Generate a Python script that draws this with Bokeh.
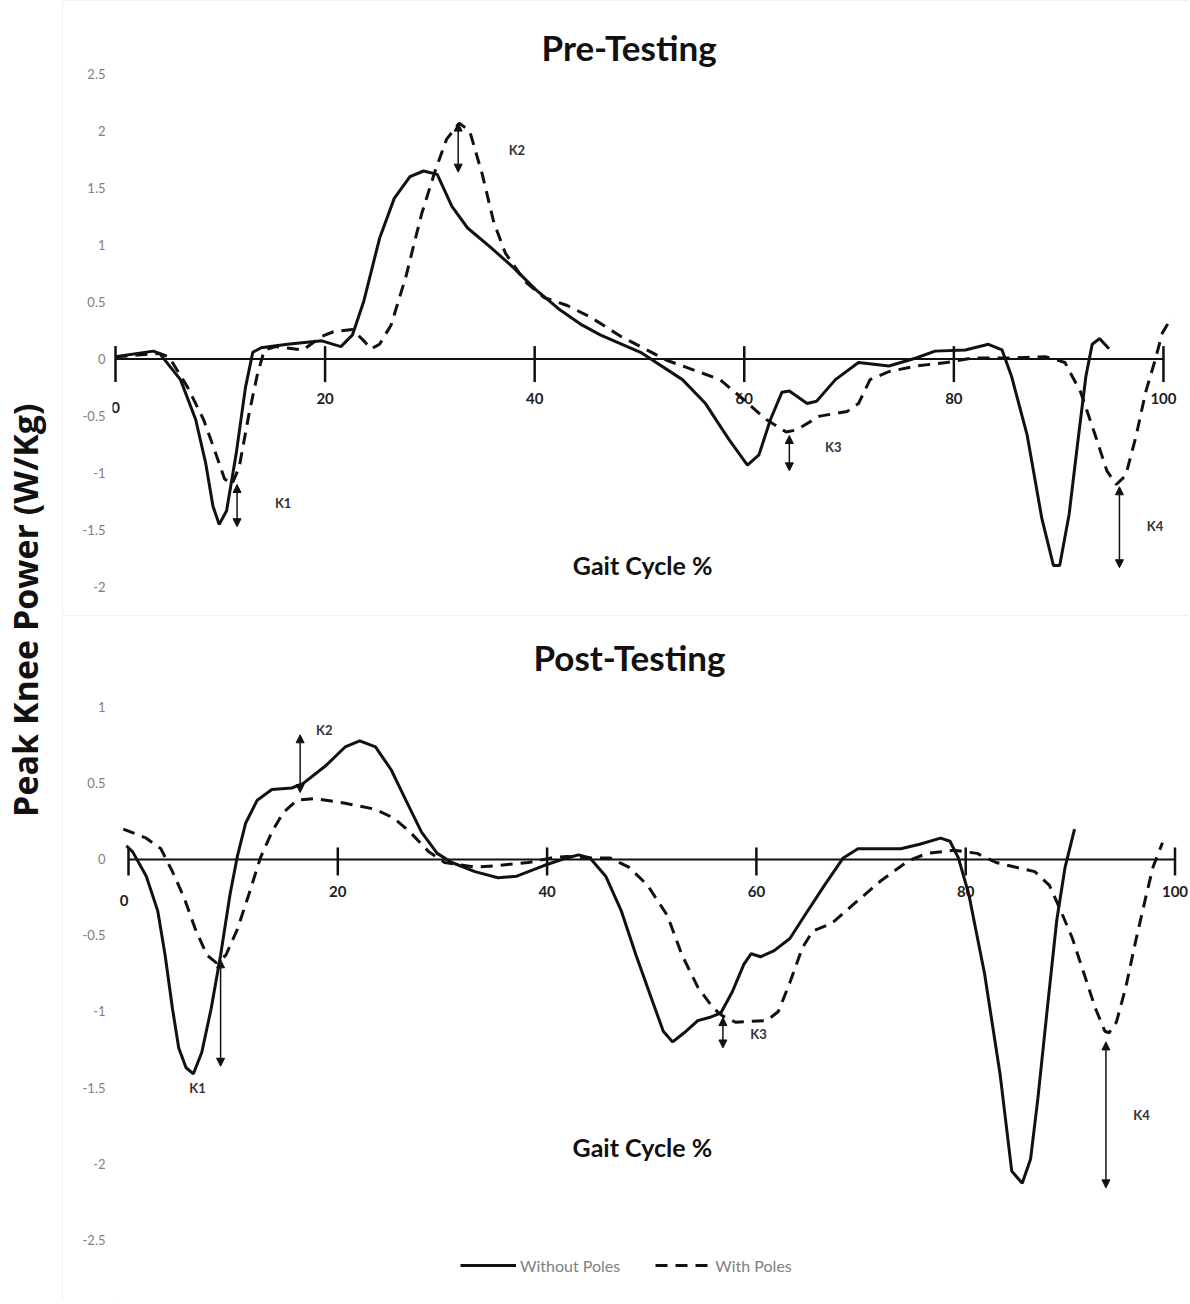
import math
from bokeh.plotting import figure
from bokeh.layouts import row, column
from bokeh.models import (Range1d, FixedTicker, Label, Arrow, NormalHead, Legend,
                          LegendItem, ColumnDataSource)
from bokeh.embed import file_html
from bokeh.resources import INLINE
from bokeh.core.properties import value

# ---------------------------------------------------------------- data
x_ticks = [0, 20, 40, 60, 80, 100]
pre_y_ticks = [2.5, 2, 1.5, 1, 0.5, 0, -0.5, -1, -1.5, -2]
post_y_ticks = [1, 0.5, 0, -0.5, -1, -1.5, -2, -2.5]

# Pre-Testing, without poles (solid)
pre_without_x = [0, 3.6, 4.2, 6.2, 7.65, 8.6, 9.3, 9.9, 10.6, 11.5, 12.4, 13.1, 13.9, 16.4,
                 19.7, 21.5, 22.6, 23.7, 25.2, 26.6, 28.1, 29.4, 30.7, 32.1, 33.6, 35.8, 38.0,
                 40.1, 42.3, 44.5, 46.3, 50.1, 54.1, 56.3, 58.5, 60.3, 61.4, 62.5, 63.6, 64.3,
                 66.0, 66.9, 68.7, 70.9, 73.8, 76.4, 78.2, 81.1, 83.3, 84.6, 85.5, 87.0, 88.4,
                 89.5, 90.1, 91.0, 91.9, 92.6, 93.2, 93.9, 94.8]
pre_without_y = [0.02, 0.07, 0.05, -0.18, -0.53, -0.91, -1.29, -1.45, -1.33, -0.84, -0.25, 0.06,
                 0.10, 0.13, 0.16, 0.11, 0.21, 0.51, 1.06, 1.41, 1.60, 1.65, 1.62, 1.34, 1.15,
                 0.98, 0.80, 0.61, 0.44, 0.30, 0.21, 0.06, -0.18, -0.39, -0.70, -0.93, -0.84,
                 -0.53, -0.29, -0.28, -0.39, -0.37, -0.18, -0.03, -0.06, 0.01, 0.07, 0.08, 0.13,
                 0.08, -0.15, -0.67, -1.40, -1.81, -1.81, -1.36, -0.67, -0.15, 0.13, 0.18, 0.09]

# Pre-Testing, with poles (dashed)
pre_with_x = [0, 4.2, 5.1, 6.9, 8.4, 9.5, 10.4, 11.1, 11.8, 12.7, 13.5, 14.2, 15.3, 17.9, 19.7,
              20.8, 22.6, 23.7, 24.4, 25.2, 26.3, 27.7, 29.2, 30.5, 31.6, 32.8, 33.8, 35.0,
              36.1, 37.2, 39.1, 40.9, 43.1, 45.3, 48.2, 52.6, 55.6, 57.7, 60.0, 62.1, 64.0,
              65.0, 67.2, 69.8, 70.9, 72.0, 73.8, 76.4, 79.3, 81.8, 85.5, 88.8, 90.6, 92.1,
              93.5, 94.6, 95.5, 96.4, 97.4, 98.3, 99.2, 99.9, 100.8]
pre_with_y = [0.02, 0.05, 0.02, -0.25, -0.53, -0.81, -1.05, -1.10, -0.95, -0.50, -0.15, 0.08,
              0.11, 0.08, 0.20, 0.24, 0.26, 0.16, 0.09, 0.13, 0.30, 0.72, 1.27, 1.65, 1.93,
              2.07, 2.00, 1.62, 1.20, 0.93, 0.68, 0.54, 0.47, 0.37, 0.20, -0.01, -0.11, -0.18,
              -0.36, -0.53, -0.64, -0.62, -0.50, -0.46, -0.39, -0.18, -0.11, -0.06, -0.03,
              0.01, 0.01, 0.02, -0.03, -0.29, -0.67, -0.98, -1.10, -1.02, -0.67, -0.29, -0.01,
              0.23, 0.37]

# Post-Testing, without poles (solid)
post_without_x = [-0.2, 0.4, 1.7, 2.8, 3.5, 4.2, 4.8, 5.5, 6.2, 7.0, 7.9, 8.8, 9.7, 10.4, 11.2,
                  12.3, 13.7, 15.6, 16.7, 18.9, 20.7, 22.1, 23.6, 25.1, 26.5, 28.0, 29.5, 30.9,
                  33.1, 35.3, 37.1, 39.7, 41.9, 43.0, 44.1, 45.6, 47.1, 48.5, 50.0, 51.1, 52.0,
                  53.1, 54.4, 55.5, 56.6, 57.7, 58.8, 59.5, 60.4, 61.7, 63.2, 64.6, 66.5, 68.3,
                  69.7, 71.9, 73.8, 75.6, 77.6, 78.5, 79.3, 80.3, 81.8, 83.3, 84.4, 85.4, 86.2,
                  86.9, 87.8, 88.7, 89.5, 90.4]
post_without_y = [0.09, 0.05, -0.11, -0.34, -0.63, -0.98, -1.24, -1.37, -1.41, -1.27, -0.98,
                  -0.63, -0.23, 0.02, 0.24, 0.39, 0.46, 0.47, 0.50, 0.62, 0.74, 0.78, 0.74, 0.59,
                  0.39, 0.18, 0.04, -0.02, -0.08, -0.12, -0.11, -0.04, 0.01, 0.03, 0.01, -0.11,
                  -0.34, -0.63, -0.92, -1.13, -1.20, -1.14, -1.06, -1.04, -1.01, -0.87, -0.69,
                  -0.62, -0.64, -0.60, -0.52, -0.37, -0.17, 0.01, 0.07, 0.07, 0.07, 0.10, 0.14,
                  0.12, 0.01, -0.23, -0.75, -1.42, -2.05, -2.13, -1.97, -1.57, -0.98, -0.40,
                  -0.05, 0.20]

# Post-Testing, with poles (dashed)
post_with_x = [-0.5, 1.7, 3.1, 4.2, 5.3, 6.4, 7.5, 8.4, 9.3, 10.4, 11.5, 12.6, 13.7, 14.8, 16.1,
               17.8, 20.7, 23.6, 25.4, 26.9, 28.7, 30.2, 33.1, 35.3, 38.2, 40.4, 41.9, 44.1,
               46.0, 47.8, 49.6, 51.5, 52.9, 54.4, 55.9, 56.8, 58.0, 61.0, 62.1, 63.2, 64.4,
               65.4, 67.2, 69.7, 71.9, 74.5, 76.3, 78.9, 81.1, 82.9, 84.7, 86.6, 88.0, 89.1,
               90.2, 91.3, 92.4, 93.3, 93.7, 94.4, 95.3, 96.2, 97.2, 97.9, 98.8]
post_with_y = [0.20, 0.14, 0.07, -0.08, -0.25, -0.46, -0.63, -0.68, -0.63, -0.46, -0.23, 0.01,
               0.18, 0.31, 0.39, 0.40, 0.37, 0.33, 0.27, 0.18, 0.05, -0.02, -0.05, -0.04, -0.02,
               0.01, 0.02, 0.01, 0.01, -0.05, -0.17, -0.37, -0.63, -0.84, -0.98, -1.03, -1.07,
               -1.06, -1.00, -0.81, -0.58, -0.47, -0.42, -0.27, -0.14, -0.01, 0.04, 0.06, 0.04,
               -0.02, -0.05, -0.08, -0.17, -0.34, -0.52, -0.75, -0.98, -1.13, -1.14, -1.07,
               -0.84, -0.55, -0.25, -0.05, 0.11]

# K markers (double arrows) and their labels
k_names = ["K1", "K2", "K3", "K4"]
pre_k_x = [11.6, 32.7, 64.3, 95.8]
pre_k_top = [-1.10, 2.07, -0.67, -1.12]
pre_k_bottom = [-1.47, 1.64, -0.98, -1.83]
pre_k_label_x = [16.0, 38.3, 68.5, 99.2]
pre_k_label_y = [-1.26, 1.83, -0.77, -1.46]

post_k_x = [8.8, 16.4, 56.8, 93.4]
post_k_top = [-0.66, 0.82, -1.04, -1.20]
post_k_bottom = [-1.36, 0.44, -1.24, -2.16]
post_k_label_x = [6.6, 18.7, 60.2, 96.8]
post_k_label_y = [-1.50, 0.85, -1.15, -1.68]

# ---------------------------------------------------------------- styling
INK = "#111111"
GREY = "#808080"
PANEL_W = 1126


def make_panel(title, title_shift, height, xr, yr, border_top, ppu, y_ticks,
               xs_without, ys_without, xs_with, ys_with,
               k_x, k_top, k_bottom, k_lx, k_ly,
               tick_up, tick_down, label_drop, zero_drop, zero_dx, gait_xy):
    p = figure(width=PANEL_W, height=height, x_range=Range1d(*xr), y_range=Range1d(*yr),
               output_backend="svg", toolbar_location=None, x_axis_location=None,
               min_border_left=50, min_border_right=0, min_border_top=border_top,
               min_border_bottom=0, title=title)
    p.styles = {"outline": "2px solid #ececec", "outline-offset": "-2px"}
    p.outline_line_color = None
    p.grid.visible = False
    p.title.align = "left"
    p.title.offset = title_shift
    p.title.text_font = "Lato"
    p.title.text_font_style = "bold"
    p.title.text_font_size = "35px"
    p.title.text_color = INK

    ax = p.yaxis[0]
    ax.ticker = FixedTicker(ticks=y_ticks)
    ax.major_label_overrides = {float(t): f"{t:g}" for t in y_ticks}
    ax.axis_line_color = None
    ax.major_tick_line_color = None
    ax.minor_tick_line_color = None
    ax.major_tick_out = 0
    ax.major_tick_in = 0
    ax.major_label_standoff = 7
    ax.major_label_text_font = "Lato"
    ax.major_label_text_font_size = "13px"
    ax.major_label_text_color = GREY

    # horizontal gait-cycle axis drawn through zero
    p.segment(x0=[x_ticks[0]], y0=[0], x1=[x_ticks[-1]], y1=[0], line_color=INK, line_width=2)
    n = len(x_ticks)
    p.segment(x0=x_ticks, y0=[tick_up / ppu] * n, x1=x_ticks, y1=[-tick_down / ppu] * n,
              line_color=INK, line_width=2.5)
    lab_x = [t + (zero_dx if t == 0 else 0) for t in x_ticks]
    lab_y = [-(zero_drop if t == 0 else label_drop) / ppu for t in x_ticks]
    p.text(x=lab_x, y=lab_y, text=[str(t) for t in x_ticks], text_font=value("Lato"),
           text_font_style="bold", text_font_size="15px", text_color="#222222",
           text_align="center", text_baseline="middle")

    r_without = p.line(xs_without, ys_without, line_color=INK, line_width=3)
    r_with = p.line(xs_with, ys_with, line_color=INK, line_width=3, line_dash="12 8")

    src = ColumnDataSource(dict(x=k_x, y0=k_top, y1=k_bottom))
    p.add_layout(Arrow(x_start="x", y_start="y0", x_end="x", y_end="y1", source=src,
                       line_color=INK, line_width=1.5,
                       start=NormalHead(size=8, fill_color=INK, line_color=INK),
                       end=NormalHead(size=8, fill_color=INK, line_color=INK)))
    p.text(x=k_lx, y=k_ly, text=k_names, text_font=value("Lato"), text_font_style="bold",
           text_font_size="13px", text_color="#333333", text_align="center",
           text_baseline="middle")

    p.add_layout(Label(x=gait_xy[0], y=gait_xy[1], text="Gait Cycle %", text_align="center",
                       text_baseline="middle", text_font="Lato", text_font_style="bold",
                       text_font_size="25px", text_color=INK))
    return p, r_without, r_with


pre, _, _ = make_panel("Pre-Testing", 429, 615, (-0.286, 102.39), (-2.249, 2.514), 72, 114.0,
                       pre_y_ticks, pre_without_x, pre_without_y, pre_with_x, pre_with_y,
                       pre_k_x, pre_k_top, pre_k_bottom, pre_k_label_x, pre_k_label_y,
                       13, 23, 39, 48, 0.0, (50.3, -1.81))

post, rw, rp = make_panel("Post-Testing", 421, 685, (-1.529, 101.29), (-2.901, 1.164), 67,
                          152.0, post_y_ticks, post_without_x, post_without_y, post_with_x,
                          post_with_y, post_k_x, post_k_top, post_k_bottom, post_k_label_x,
                          post_k_label_y, 12, 16, 32, 41, -0.42, (49.1, -1.89))

legend = Legend(items=[LegendItem(label="Without Poles", renderers=[rw]),
                       LegendItem(label="With Poles", renderers=[rp])],
                orientation="horizontal", location=(348, 25), padding=0, margin=0,
                spacing=35, glyph_width=56, glyph_height=20, label_standoff=4,
                label_text_font="Lato", label_text_font_size="16px", label_text_color=GREY,
                border_line_color=None, background_fill_alpha=0)
post.add_layout(legend)

ylab = figure(width=62, height=1300, x_range=Range1d(0, 1), y_range=Range1d(0, 1),
              output_backend="svg", toolbar_location=None, x_axis_location=None,
              y_axis_location=None, min_border=0)
ylab.outline_line_color = None
ylab.grid.visible = False
ylab.add_layout(Label(x=0.39, y=0.531, text="Peak Knee Power (W/Kg)", angle=math.pi / 2,
                      text_align="center", text_baseline="middle", text_font="Open Sans",
                      text_font_style="bold", text_font_size="34px", text_color=INK))

layout = row(ylab, column(pre, post))
open("out.html", "w").write(file_html(layout, INLINE))
